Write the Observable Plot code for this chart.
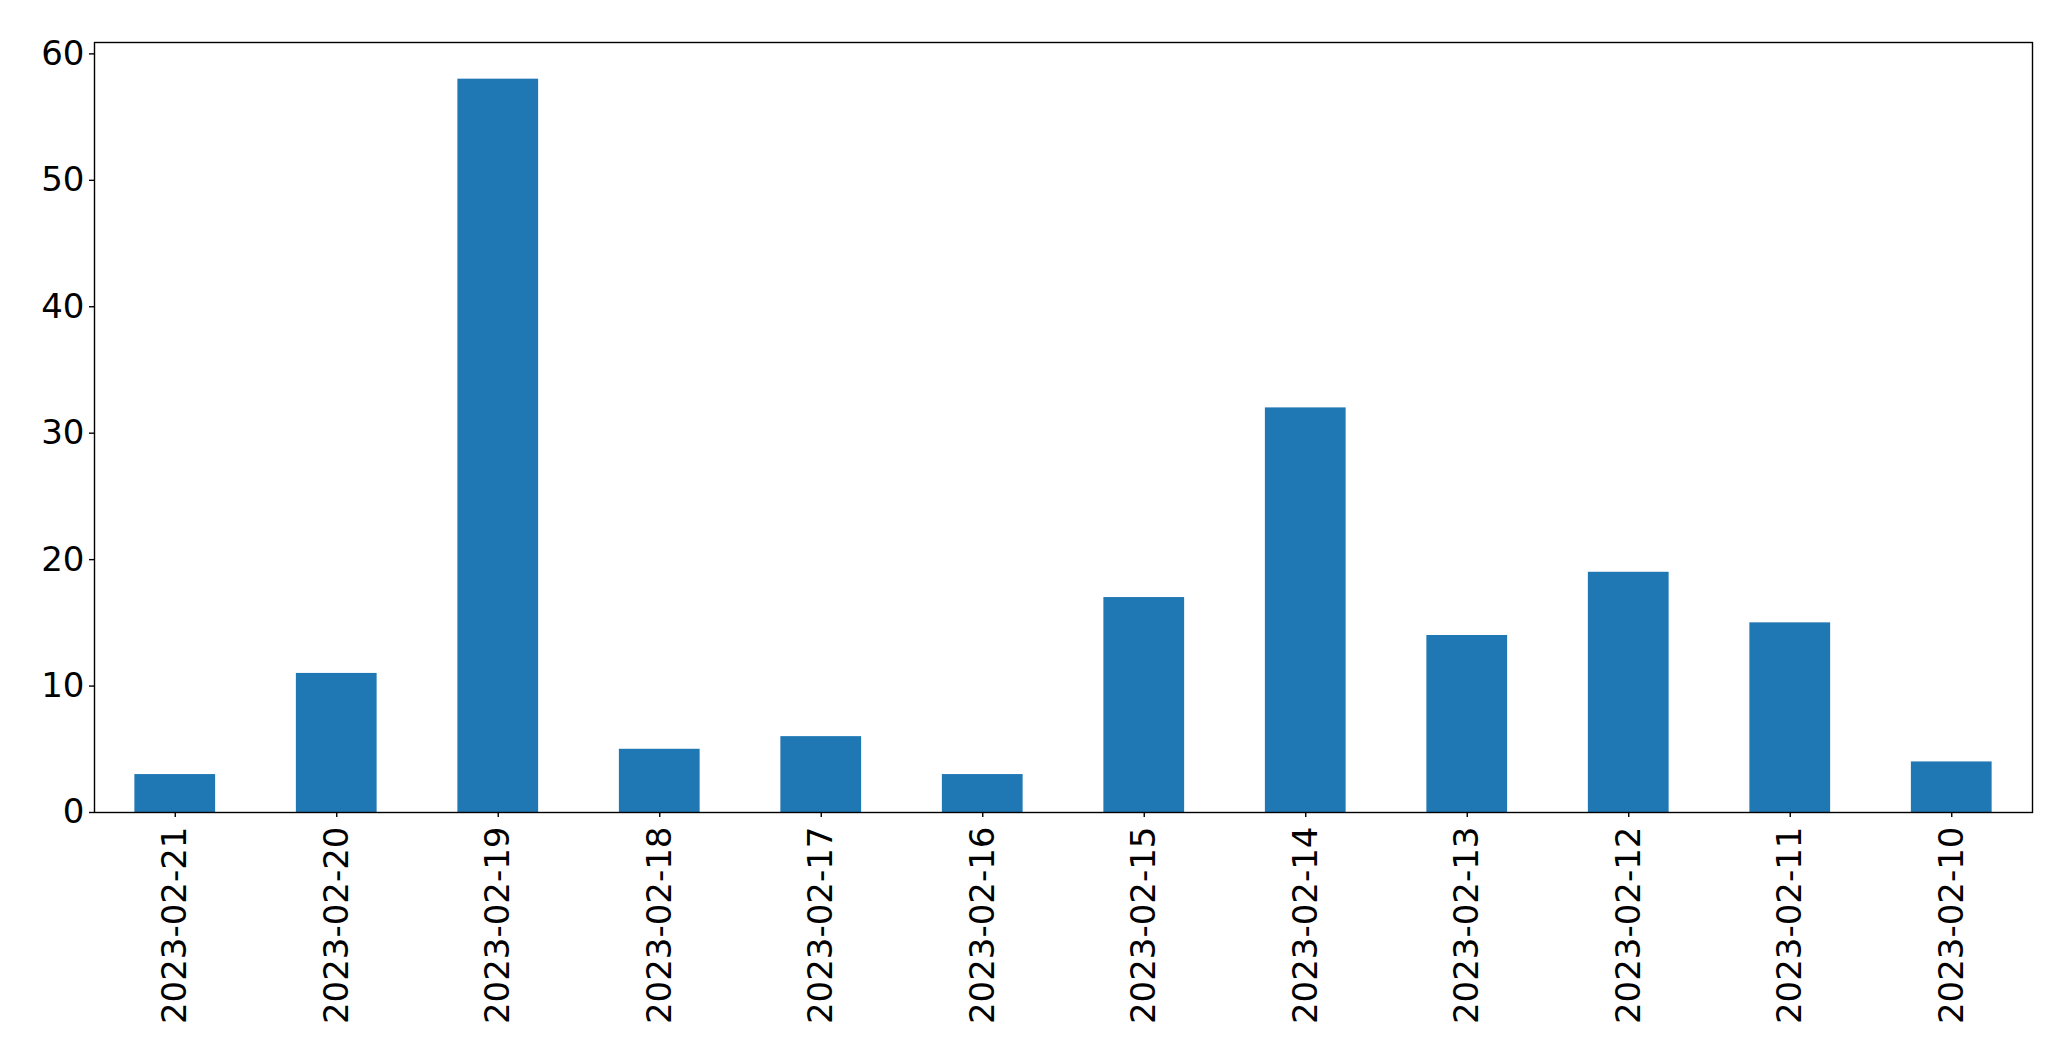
<!DOCTYPE html>
<html>
<head>
<meta charset="utf-8">
<script src="https://cdn.jsdelivr.net/npm/d3@7"></script>
<script src="https://cdn.jsdelivr.net/npm/@observablehq/plot@0.6"></script>
<style>
  html, body { margin: 0; padding: 0; background: #fff; }
  #chart svg { display: block; }
</style>
</head>
<body>
<div id="chart"></div>
<script>
const dates = ["2023-02-21","2023-02-20","2023-02-19","2023-02-18","2023-02-17","2023-02-16","2023-02-15","2023-02-14","2023-02-13","2023-02-12","2023-02-11","2023-02-10"];
const counts = [3, 11, 58, 5, 6, 3, 17, 32, 14, 19, 15, 4];
const yTicks = [0, 10, 20, 30, 40, 50, 60];

const data = dates.map((d, i) => ({date: d, count: counts[i]}));

const chart = Plot.plot({
  width: 2071,
  height: 1064,
  marginLeft: 94,
  marginRight: 39,
  marginTop: 42,
  marginBottom: 252,
  style: {fontFamily: "DejaVu Sans", fontSize: "34px", color: "#000", background: "#fff"},
  x: {domain: dates, paddingInner: 0.5, paddingOuter: 0.25, round: false, label: null},
  y: {domain: [0, 60.9], label: null},
  marks: [
    Plot.barY(data, {x: "date", y: "count", fill: "#1f77b4"}),
    Plot.frame({stroke: "#000", strokeWidth: 1.4}),
    Plot.axisY({ticks: yTicks, tickSize: 5, tickPadding: 5, tickFormat: d => d, label: null, fontSize: 34, strokeWidth: 1.4}),
    Plot.axisX({tickSize: 5, tickPadding: 9, tickRotate: -90, label: null, fontSize: 34, strokeWidth: 1.4})
  ]
});
document.getElementById("chart").appendChild(chart);
</script>
</body>
</html>
